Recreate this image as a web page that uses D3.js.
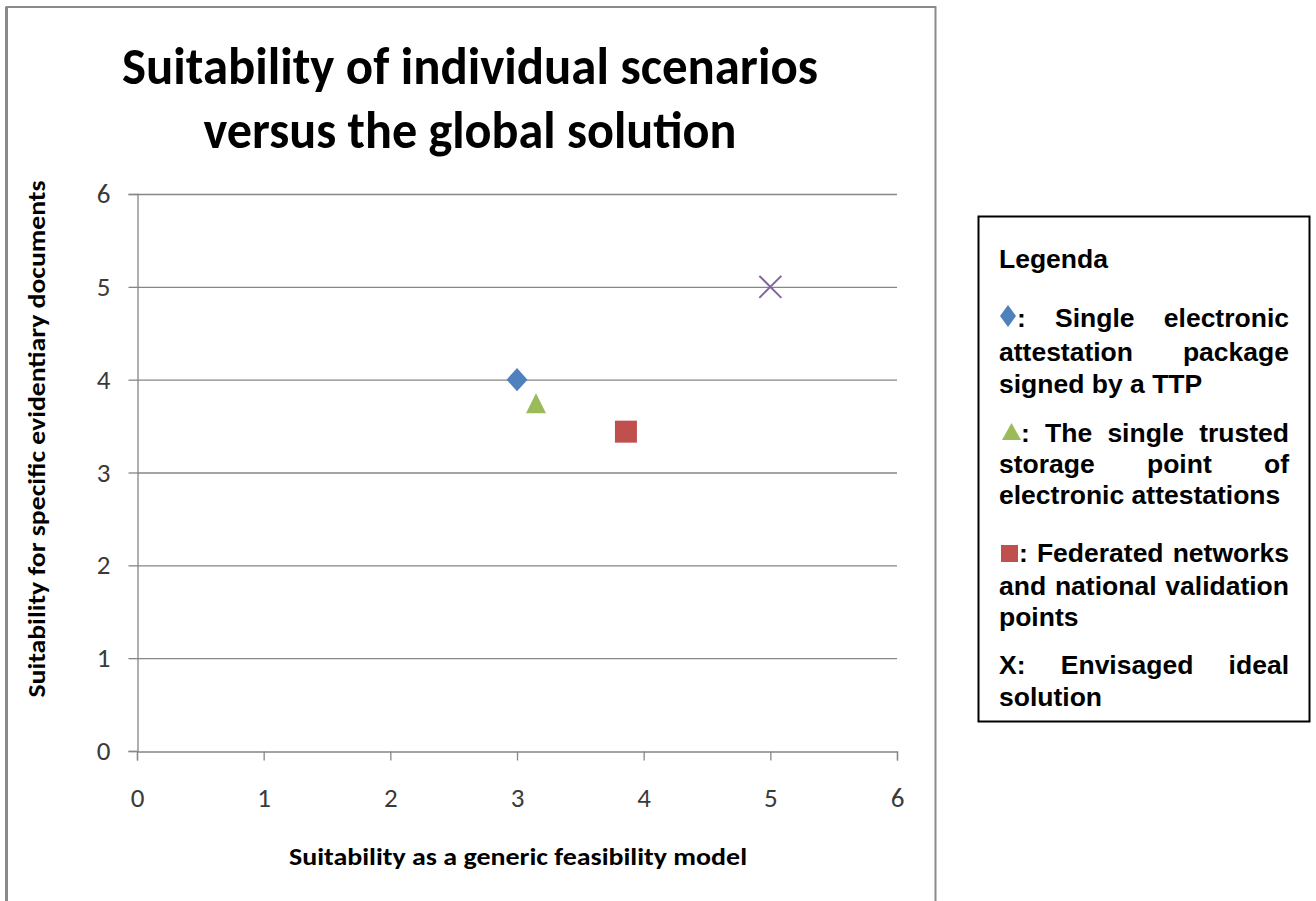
<!DOCTYPE html>
<html><head><meta charset="utf-8">
<script src="https://cdn.jsdelivr.net/npm/d3@7"></script>
<style>
html,body{margin:0;padding:0;background:#fff;}
svg{display:block;}
</style></head>
<body>
<svg id="c" width="1316" height="901"></svg>
<script>
const titleLines = ["Suitability of individual scenarios", "versus the global solution"];
const xTitle = "Suitability as a generic feasibility model";
const yTitle = "Suitability for specific evidentiary documents";
const xTicks = [0,1,2,3,4,5,6];
const yTicks = [0,1,2,3,4,5,6];
const seriesNames = ["Single electronic attestation package signed by a TTP",
  "The single trusted storage point of electronic attestations",
  "Federated networks and national validation points",
  "Envisaged ideal solution"];
const seriesX = [3, 3.15, 3.86, 5];
const seriesY = [4, 3.72, 3.44, 5];
const seriesSymbols = ["diamond","triangle","square","x"];
const seriesColors = ["#4F81BD","#9BBB59","#C0504D","#8064A2"];
const legendTitle = "Legenda";
const legendLines = [
  {sym:0, words:[":", "Single", "electronic"], just:true, y:327},
  {sym:null, words:["attestation","package"], just:true, y:361},
  {sym:null, words:["signed","by","a","TTP"], just:false, y:393},
  {sym:1, words:[":", "The","single","trusted"], just:true, y:442},
  {sym:null, words:["storage","point","of"], just:true, y:473},
  {sym:null, words:["electronic","attestations"], just:false, y:504},
  {sym:2, words:[":", "Federated","networks"], just:true, y:562},
  {sym:null, words:["and","national","validation"], just:true, y:595},
  {sym:null, words:["points"], just:false, y:626},
  {sym:null, words:["X:", "Envisaged","ideal"], just:true, y:674},
  {sym:null, words:["solution"], just:false, y:706}
];

const svg = d3.select("#c");
const narrow = "Carlito, 'Liberation Sans Narrow', 'Open Sans', sans-serif";

// outer chart border
svg.append("path").attr("d","M6.5,905 V7 H935.5 V905")
  .attr("fill","none").attr("stroke","#8a8a8a").attr("stroke-width",2);
svg.append("rect").attr("x",5).attr("y",7).attr("width",3).attr("height",900).attr("fill","#8a8a8a");

const x = d3.scaleLinear().domain([0,6]).range([137,897]);
const y = d3.scaleLinear().domain([0,6]).range([751,194]);

// gridlines
svg.append("g").selectAll("line").data(yTicks.filter(d=>d>0)).join("line")
  .attr("x1",x(0)).attr("x2",x(6)).attr("y1",d=>y(d)+0.5).attr("y2",d=>y(d)+0.5)
  .attr("stroke","#868686").attr("stroke-width",1.3);

const yAxis = svg.append("g").attr("transform",`translate(${x(0)+0.5},0)`)
  .call(d3.axisLeft(y).tickValues(yTicks).tickSize(9).tickPadding(18).tickFormat(d3.format("d")));
const xAxis = svg.append("g").attr("transform",`translate(0,${y(0)+0.5})`)
  .call(d3.axisBottom(x).tickValues(xTicks).tickSize(9).tickPadding(27).tickFormat(d3.format("d")));
[yAxis,xAxis].forEach(a=>{
  a.attr("font-size",27).attr("font-family",narrow);
  a.select(".domain").attr("stroke","#868686").attr("stroke-width",1.3);
  a.selectAll(".tick line").attr("stroke","#868686").attr("stroke-width",1.3);
  a.selectAll(".tick text").attr("font-family",narrow).attr("font-size",27).attr("fill","#3a3a3a");
});
yAxis.selectAll(".tick text").attr("text-anchor","middle").attr("dx",-7);

// title
svg.append("g").selectAll("text").data(titleLines).join("text")
  .attr("x",470).attr("y",(d,i)=>84+i*64).attr("text-anchor","middle")
  .attr("font-family",narrow).attr("font-weight","bold").attr("font-size",52).attr("fill","#000")
  .attr("textLength",(d,i)=>i===0?696:533).attr("lengthAdjust","spacingAndGlyphs")
  .text(d=>d);

// axis titles
svg.append("text").attr("x",518).attr("y",865).attr("text-anchor","middle")
  .attr("font-family",narrow).attr("font-weight","bold").attr("font-size",25)
  .attr("textLength",458).attr("lengthAdjust","spacingAndGlyphs").text(xTitle);
svg.append("text").attr("transform","translate(45,439) rotate(-90)").attr("text-anchor","middle")
  .attr("font-family",narrow).attr("font-weight","bold").attr("font-size",25)
  .attr("textLength",517).attr("lengthAdjust","spacingAndGlyphs").text(yTitle);

// markers
function markerPath(sym, s){
  if(sym==="diamond") return `M0,${-s*0.55}L${s*0.5},0L0,${s*0.55}L${-s*0.5},0Z`;
  if(sym==="triangle") return `M0,${-s*0.62}L${s*0.5},${s*0.38}L${-s*0.5},${s*0.38}Z`;
  if(sym==="square") return `M${-s/2},${-s/2}H${s/2}V${s/2}H${-s/2}Z`;
  return `M${-s/2},${-s/2}L${s/2},${s/2}M${s/2},${-s/2}L${-s/2},${s/2}`;
}
const sizes = [21, 20, 22, 22];
svg.append("g").selectAll("path").data(seriesX.map((v,i)=>({x:v,y:seriesY[i],i}))).join("path")
  .attr("transform",d=>`translate(${x(d.x)},${y(d.y)})`)
  .attr("d",d=>markerPath(seriesSymbols[d.i], sizes[d.i]))
  .attr("fill",d=>seriesSymbols[d.i]==="x"?"none":seriesColors[d.i])
  .attr("stroke",d=>seriesSymbols[d.i]==="x"?seriesColors[d.i]:"none")
  .attr("stroke-width",2);

// legend
const lg = svg.append("g");
lg.append("rect").attr("x",978.5).attr("y",216.5).attr("width",331).attr("height",505)
  .attr("fill","#fff").attr("stroke","#000").attr("stroke-width",2);
const lf = "Arial, 'Liberation Sans', sans-serif";
const FS = 26.5;
lg.append("text").attr("x",999).attr("y",268).attr("font-family",lf).attr("font-weight","bold")
  .attr("font-size",FS).text(legendTitle);
const L = 999, R = 1289;
legendLines.forEach(line=>{
  const g = lg.append("g");
  let symW = 0;
  if(line.sym!==null){
    const s = line.sym;
    let p, cx, cy;
    if(s===0){ p = `M0,-11L8,0L0,11L-8,0Z`; cx=1008; cy=line.y-11; symW=18; }
    else if(s===1){ p = `M0,-8.5L9.5,8.5L-9.5,8.5Z`; cx=1011.5; cy=line.y-10.5; symW=22; }
    else { p = `M-8.5,-8.5H8.5V8.5H-8.5Z`; cx=1009.5; cy=line.y-8.5; symW=20; }
    g.append("path").attr("transform",`translate(${cx},${cy})`).attr("d",p).attr("fill",seriesColors[s]);
  }
  const texts = line.words.map(w=>g.append("text").attr("font-family",lf).attr("font-weight","bold")
    .attr("font-size",FS).attr("y",line.y).text(w));
  const widths = texts.map(t=>t.node().getComputedTextLength());
  const total = widths.reduce((a,b)=>a+b,0) + symW;
  const n = line.words.length-1;
  const gap = line.just ? (R - L - total)/n : FS*0.278;
  let cx = L + symW;
  texts.forEach((t,i)=>{ t.attr("x",cx); cx += widths[i] + gap; });
});
</script>
</body></html>
